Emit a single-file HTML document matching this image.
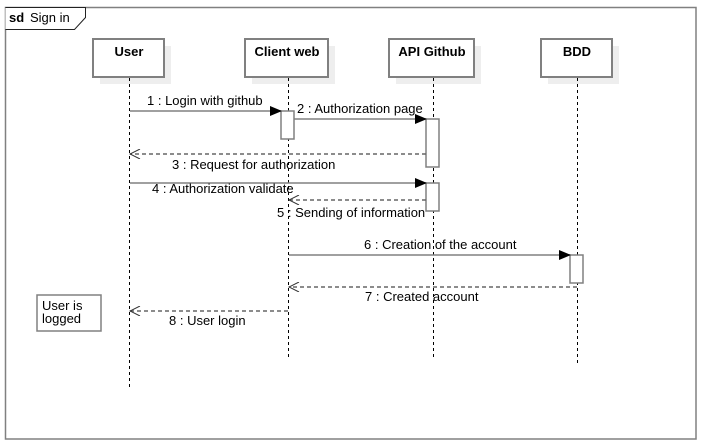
<!DOCTYPE html>
<html><head><style>html,body{margin:0;padding:0;background:#fff;}svg{display:block}</style></head>
<body>
<svg width="702" height="443" viewBox="0 0 702 443" xmlns="http://www.w3.org/2000/svg" font-family="Liberation Sans, sans-serif" font-size="13">
<defs>
<marker id="f" markerWidth="12" markerHeight="10" refX="11" refY="5" orient="auto" markerUnits="userSpaceOnUse"><path d="M0,0 L12,5 L0,10 z" fill="#000"/></marker>
<marker id="o" markerWidth="12" markerHeight="10" refX="11" refY="5" orient="auto" markerUnits="userSpaceOnUse"><path d="M1,0 L11,5 L1,10" fill="none" stroke="#333" stroke-width="1"/></marker>
</defs>
<rect x="5.5" y="7.5" width="690.5" height="431.5" fill="#fff" stroke="#808080" stroke-width="1.5"/>
<path d="M5.5,7.5 H85.5 V17.5 L74.5,29.5 H5.5" fill="#fff" stroke="#222" stroke-width="1"/>
<text x="9" y="22" font-weight="bold">sd</text><text x="30" y="22">Sign in</text>
<g fill="#eee">
<rect x="100" y="46" width="71" height="38"/><rect x="252" y="46" width="83" height="38"/>
<rect x="396" y="46" width="85" height="38"/><rect x="548" y="46" width="71" height="38"/>
</g>
<g fill="#fff" stroke="#808080" stroke-width="2">
<rect x="93" y="39" width="71" height="38"/><rect x="245" y="39" width="83" height="38"/>
<rect x="389" y="39" width="85" height="38"/><rect x="541" y="39" width="71" height="38"/>
</g>
<g font-weight="bold" text-anchor="middle">
<text x="129" y="56">User</text><text x="287" y="56">Client web</text>
<text x="432" y="56">API Github</text><text x="577" y="56">BDD</text>
</g>
<g stroke="#000" stroke-dasharray="3,3" stroke-width="1">
<line x1="129.5" y1="78" x2="129.5" y2="388"/><line x1="288.5" y1="78" x2="288.5" y2="358"/>
<line x1="433.5" y1="78" x2="433.5" y2="358"/><line x1="577.5" y1="78" x2="577.5" y2="364"/>
</g>
<g fill="#fff" stroke="#808080" stroke-width="1.5">
<rect x="281" y="111" width="13" height="28"/><rect x="426" y="119" width="13" height="48"/>
<rect x="426" y="183" width="13" height="28"/><rect x="570" y="255" width="13" height="28"/>
</g>
<g stroke="#808080" stroke-width="1.5" fill="none">
<line x1="130" y1="111" x2="281" y2="111" marker-end="url(#f)"/>
<line x1="294" y1="119" x2="426" y2="119" marker-end="url(#f)"/>
<line x1="130" y1="183" x2="426" y2="183" marker-end="url(#f)"/>
<line x1="289" y1="255" x2="570" y2="255" marker-end="url(#f)"/>
<g stroke-dasharray="4,3" stroke="#666">
<line x1="426" y1="154" x2="130" y2="154" marker-end="url(#o)"/>
<line x1="426" y1="200" x2="289" y2="200" marker-end="url(#o)"/>
<line x1="577" y1="287" x2="289" y2="287" marker-end="url(#o)"/>
<line x1="288" y1="311" x2="130" y2="311" marker-end="url(#o)"/>
</g>
</g>
<g fill="#000">
<text x="147" y="105">1 : Login with github</text>
<text x="297" y="113">2 : Authorization page</text>
<text x="172" y="169">3 : Request for authorization</text>
<text x="152" y="193">4 : Authorization validate</text>
<text x="277" y="217">5 : Sending of information</text>
<text x="364" y="249">6 : Creation of the account</text>
<text x="365" y="301">7 : Created account</text>
<text x="169" y="325">8 : User login</text>
</g>
<rect x="37" y="295" width="64" height="36" fill="#fff" stroke="#808080" stroke-width="1.5"/>
<text x="42" y="310">User is</text><text x="42" y="323">logged</text>
</svg>
</body></html>
